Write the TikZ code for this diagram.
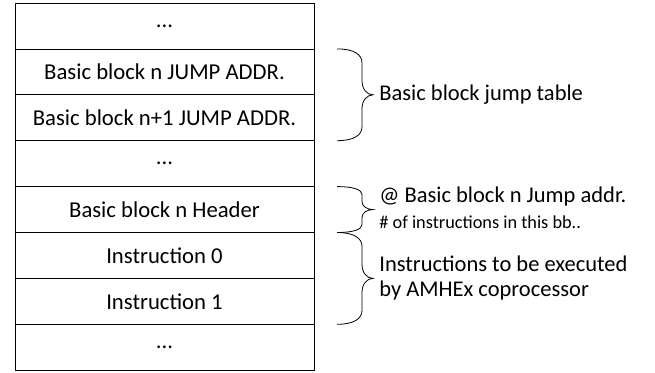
\documentclass[tikz,border=0pt]{standalone}
\usepackage{fontspec}
\setmainfont{Carlito}
\usetikzlibrary{positioning,calc}

% curly brace pointing right: top, bottom, corner size, name of the tip
\newcommand{\sidebrace}[4]{%
  \coordinate (#4) at ($(#1)!0.5!(#2)+(36,0)$);
  \draw (#1) .. controls +(17,0) and +(0,-0.6*#3) .. ($(#1)+(25,#3)$)
    -- ($(#4)+(-11,-#3)$) .. controls +(0,0.6*#3) and +(-6,0) .. (#4)
    .. controls +(-6,0) and +(0,-0.6*#3) .. ($(#4)+(-11,#3)$)
    -- ($(#2)+(25,-#3)$) .. controls +(0,0.6*#3) and +(17,0) .. (#2);}

\begin{document}
\begin{tikzpicture}[x=1pt,y=-1pt,line width=0.8pt]
          \tikzstyle{cell}=[draw, minimum width=299pt, minimum height=45.9pt, inner sep=0pt, outer sep=0pt, font=\fontsize{22.7}{27}\selectfont]
          \tikzstyle{note}=[inner sep=0pt, align=left, font=\fontsize{22.5}{25}\selectfont]
          \tikzstyle{small note}=[inner sep=0pt, font=\fontsize{18.3}{22}\selectfont]
          \useasboundingbox (0,0) rectangle (655,372);
          \node[cell, anchor=north west] (dots1) at (15,3) {...};
          \node[cell, below=0pt of dots1] (jmp1) {Basic block n JUMP ADDR.};
          \node[cell, below=0pt of jmp1] (jmp2) {Basic block n+1 JUMP ADDR.};
          \node[cell, below=0pt of jmp2] (dots2) {...};
          \node[cell, below=0pt of dots2] (header) {Basic block n Header};
          \node[cell, below=0pt of header] (ins0) {Instruction 0};
          \node[cell, below=0pt of ins0] (ins1) {Instruction 1};
          \node[cell, below=0pt of ins1] (dots3) {...};
          % braces
          \coordinate (jt) at ([xshift=23pt]jmp1.north east);
          \coordinate (jb) at ([xshift=23pt]jmp2.south east);
          \coordinate (ht) at ([xshift=23pt]header.north east);
          \coordinate (hb) at ([xshift=23pt]header.south east);
          \coordinate (it) at ([xshift=23pt]ins0.north east);
          \coordinate (ib) at ([xshift=23pt]ins1.south east);
          \sidebrace{jt}{jb}{14}{jtip}
          \sidebrace{ht}{hb}{8}{htip}
          \sidebrace{it}{ib}{14}{itip}
          \node[note, right=6pt of jtip] (table) {Basic block jump table};
          \node[note, anchor=west] (addr) at ($(htip)+(6,-13)$) {@ Basic block n Jump addr.};
          \node[small note, anchor=west] (count) at ($(htip)+(6,13)$) {\# of instructions in this bb..};
          \node[note, right=6pt of itip] (exec) {Instructions to be executed\\by AMHEx coprocessor};
      \end{tikzpicture}
\end{document}
